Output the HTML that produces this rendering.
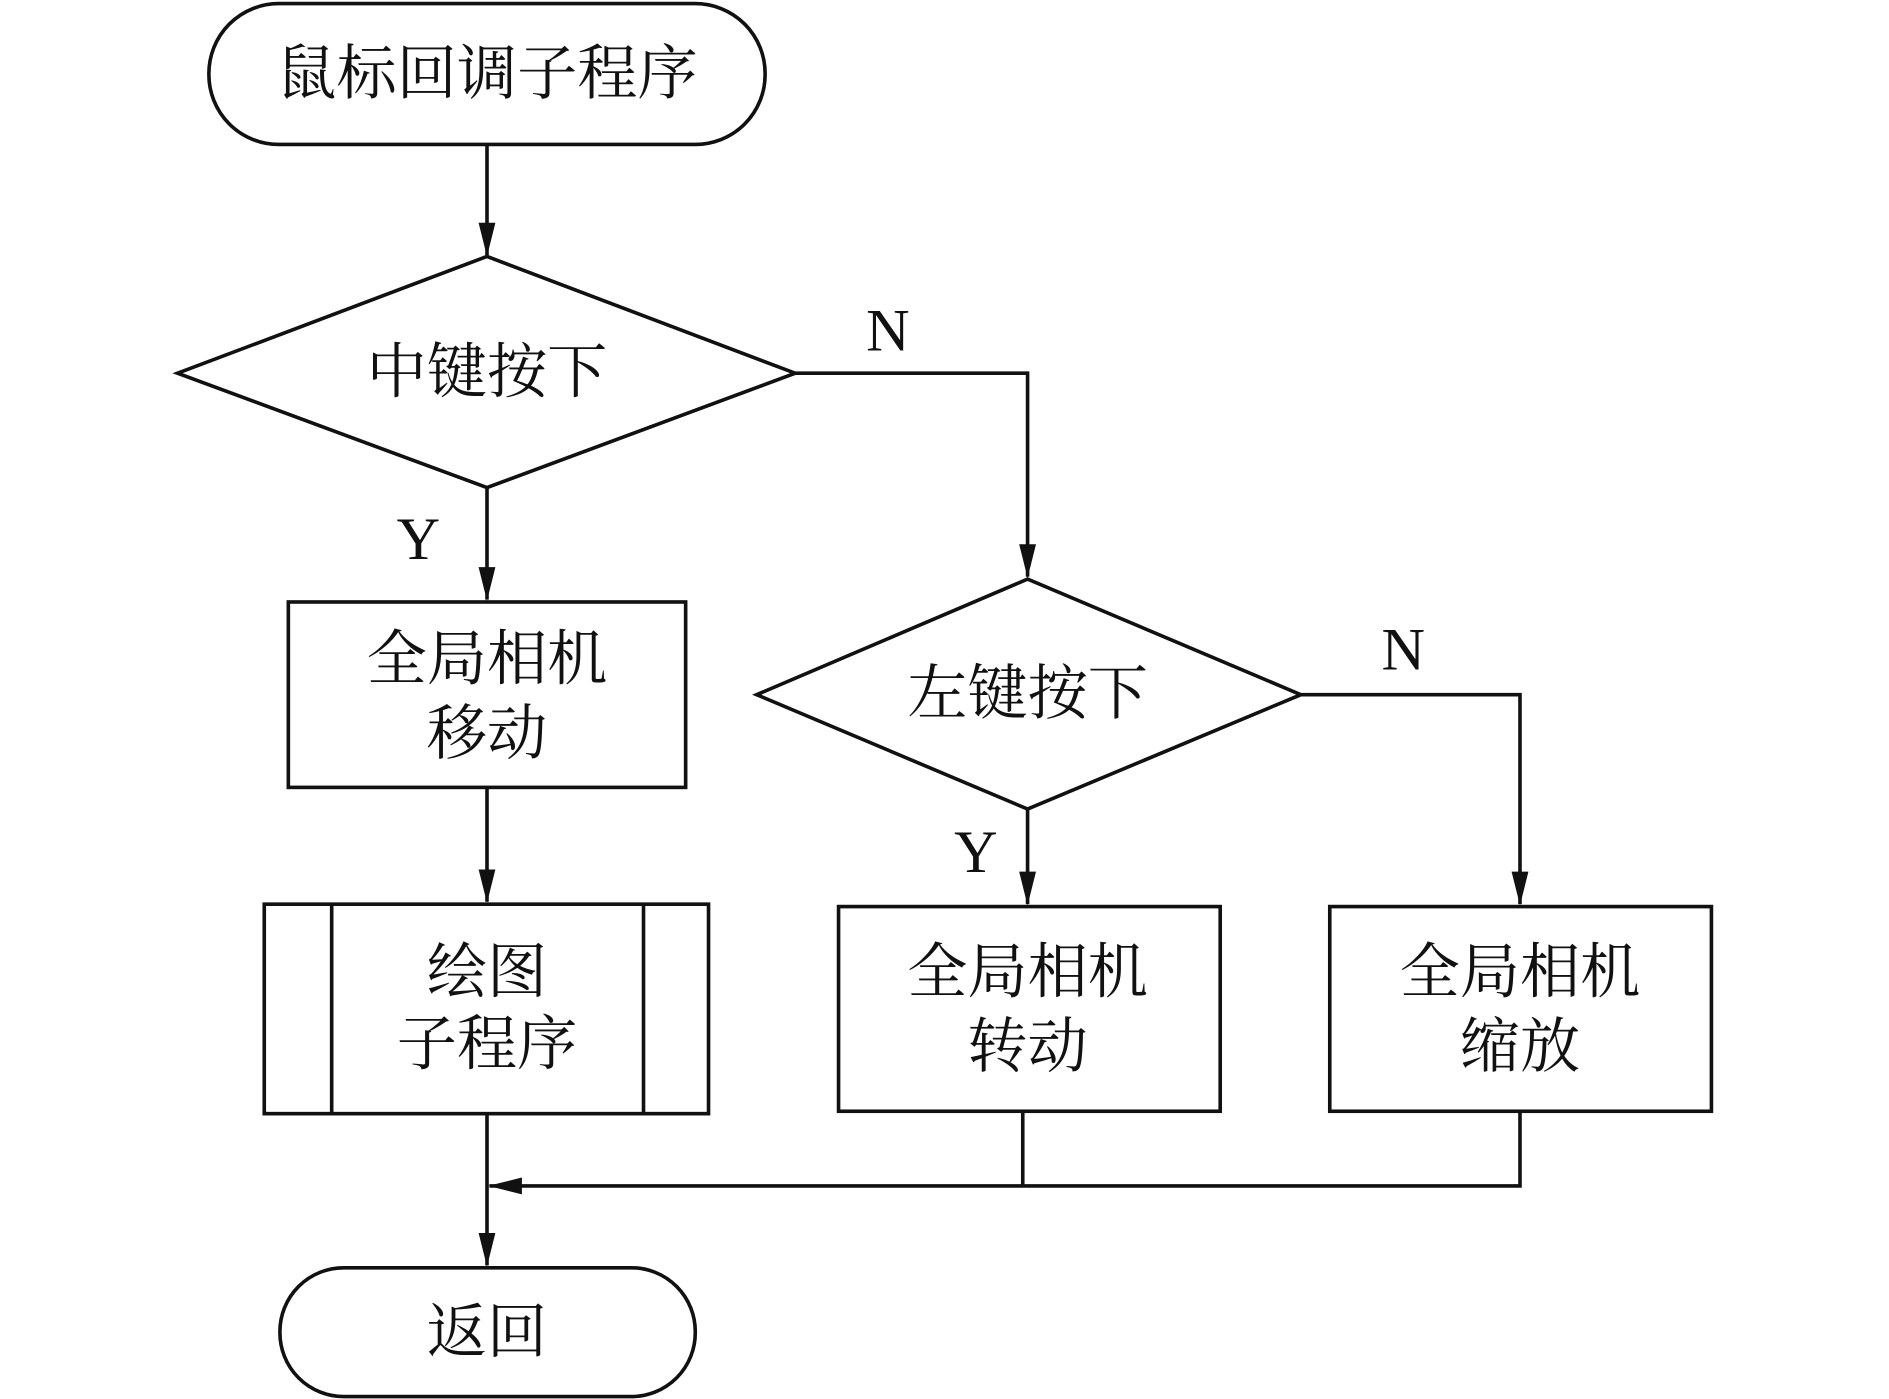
<!DOCTYPE html>
<html><head><meta charset="utf-8"><style>
html,body{margin:0;padding:0;background:#fff;}
svg{display:block;}
text{font-family:"Liberation Serif","Noto Serif CJK SC",serif;font-size:50px;fill:#111;text-anchor:middle;dominant-baseline:central;}
.s{fill:none;stroke:#111;stroke-width:3;}
</style></head><body>
<svg width="1889" height="1399" viewBox="0 0 1568 1162" xmlns="http://www.w3.org/2000/svg">
<defs><marker id="a" markerWidth="28" markerHeight="14" refX="27" refY="7" orient="auto" markerUnits="userSpaceOnUse"><path d="M0,0 L28,7 L0,14 Z" fill="#111"/></marker></defs>
<rect class="s" x="173" y="3" width="462" height="117" rx="58"/>
<text x="404" y="62">鼠标回调子程序</text>
<line class="s" x1="404" y1="120" x2="404" y2="212" marker-end="url(#a)"/>
<polygon class="s" points="147,310 404,213 660,310 404,405"/>
<text x="404" y="310">中键按下</text>
<text x="737" y="275">N</text>
<polyline class="s" points="660,310 853,310 853,479" marker-end="url(#a)"/>
<text x="347" y="448">Y</text>
<line class="s" x1="404" y1="405" x2="404" y2="498" marker-end="url(#a)"/>
<rect class="s" x="239" y="500" width="330" height="154"/>
<text x="404" y="548">全局相机</text>
<text x="404" y="610">移动</text>
<line class="s" x1="404" y1="654" x2="404" y2="749" marker-end="url(#a)"/>
<rect class="s" x="219" y="751" width="369" height="174"/>
<line class="s" x1="275" y1="751" x2="275" y2="925"/>
<line class="s" x1="534" y1="751" x2="534" y2="925"/>
<text x="404" y="808">绘图</text>
<text x="404" y="868">子程序</text>
<polygon class="s" points="628,577 853,481 1080,577 853,672"/>
<text x="853" y="577">左键按下</text>
<text x="1165" y="540">N</text>
<polyline class="s" points="1080,577 1262,577 1262,751" marker-end="url(#a)"/>
<text x="810" y="708">Y</text>
<line class="s" x1="853" y1="672" x2="853" y2="751" marker-end="url(#a)"/>
<rect class="s" x="696" y="753" width="317" height="170"/>
<text x="853" y="808">全局相机</text>
<text x="853" y="870">转动</text>
<rect class="s" x="1104" y="753" width="317" height="170"/>
<text x="1262" y="808">全局相机</text>
<text x="1262" y="870">缩放</text>
<line class="s" x1="849" y1="923" x2="849" y2="985"/>
<polyline class="s" points="1262,923 1262,985 406,985" marker-end="url(#a)"/>
<line class="s" x1="404" y1="925" x2="404" y2="1051" marker-end="url(#a)"/>
<rect class="s" x="232" y="1053" width="345" height="107" rx="53"/>
<text x="404" y="1107">返回</text>
</svg>
</body></html>
